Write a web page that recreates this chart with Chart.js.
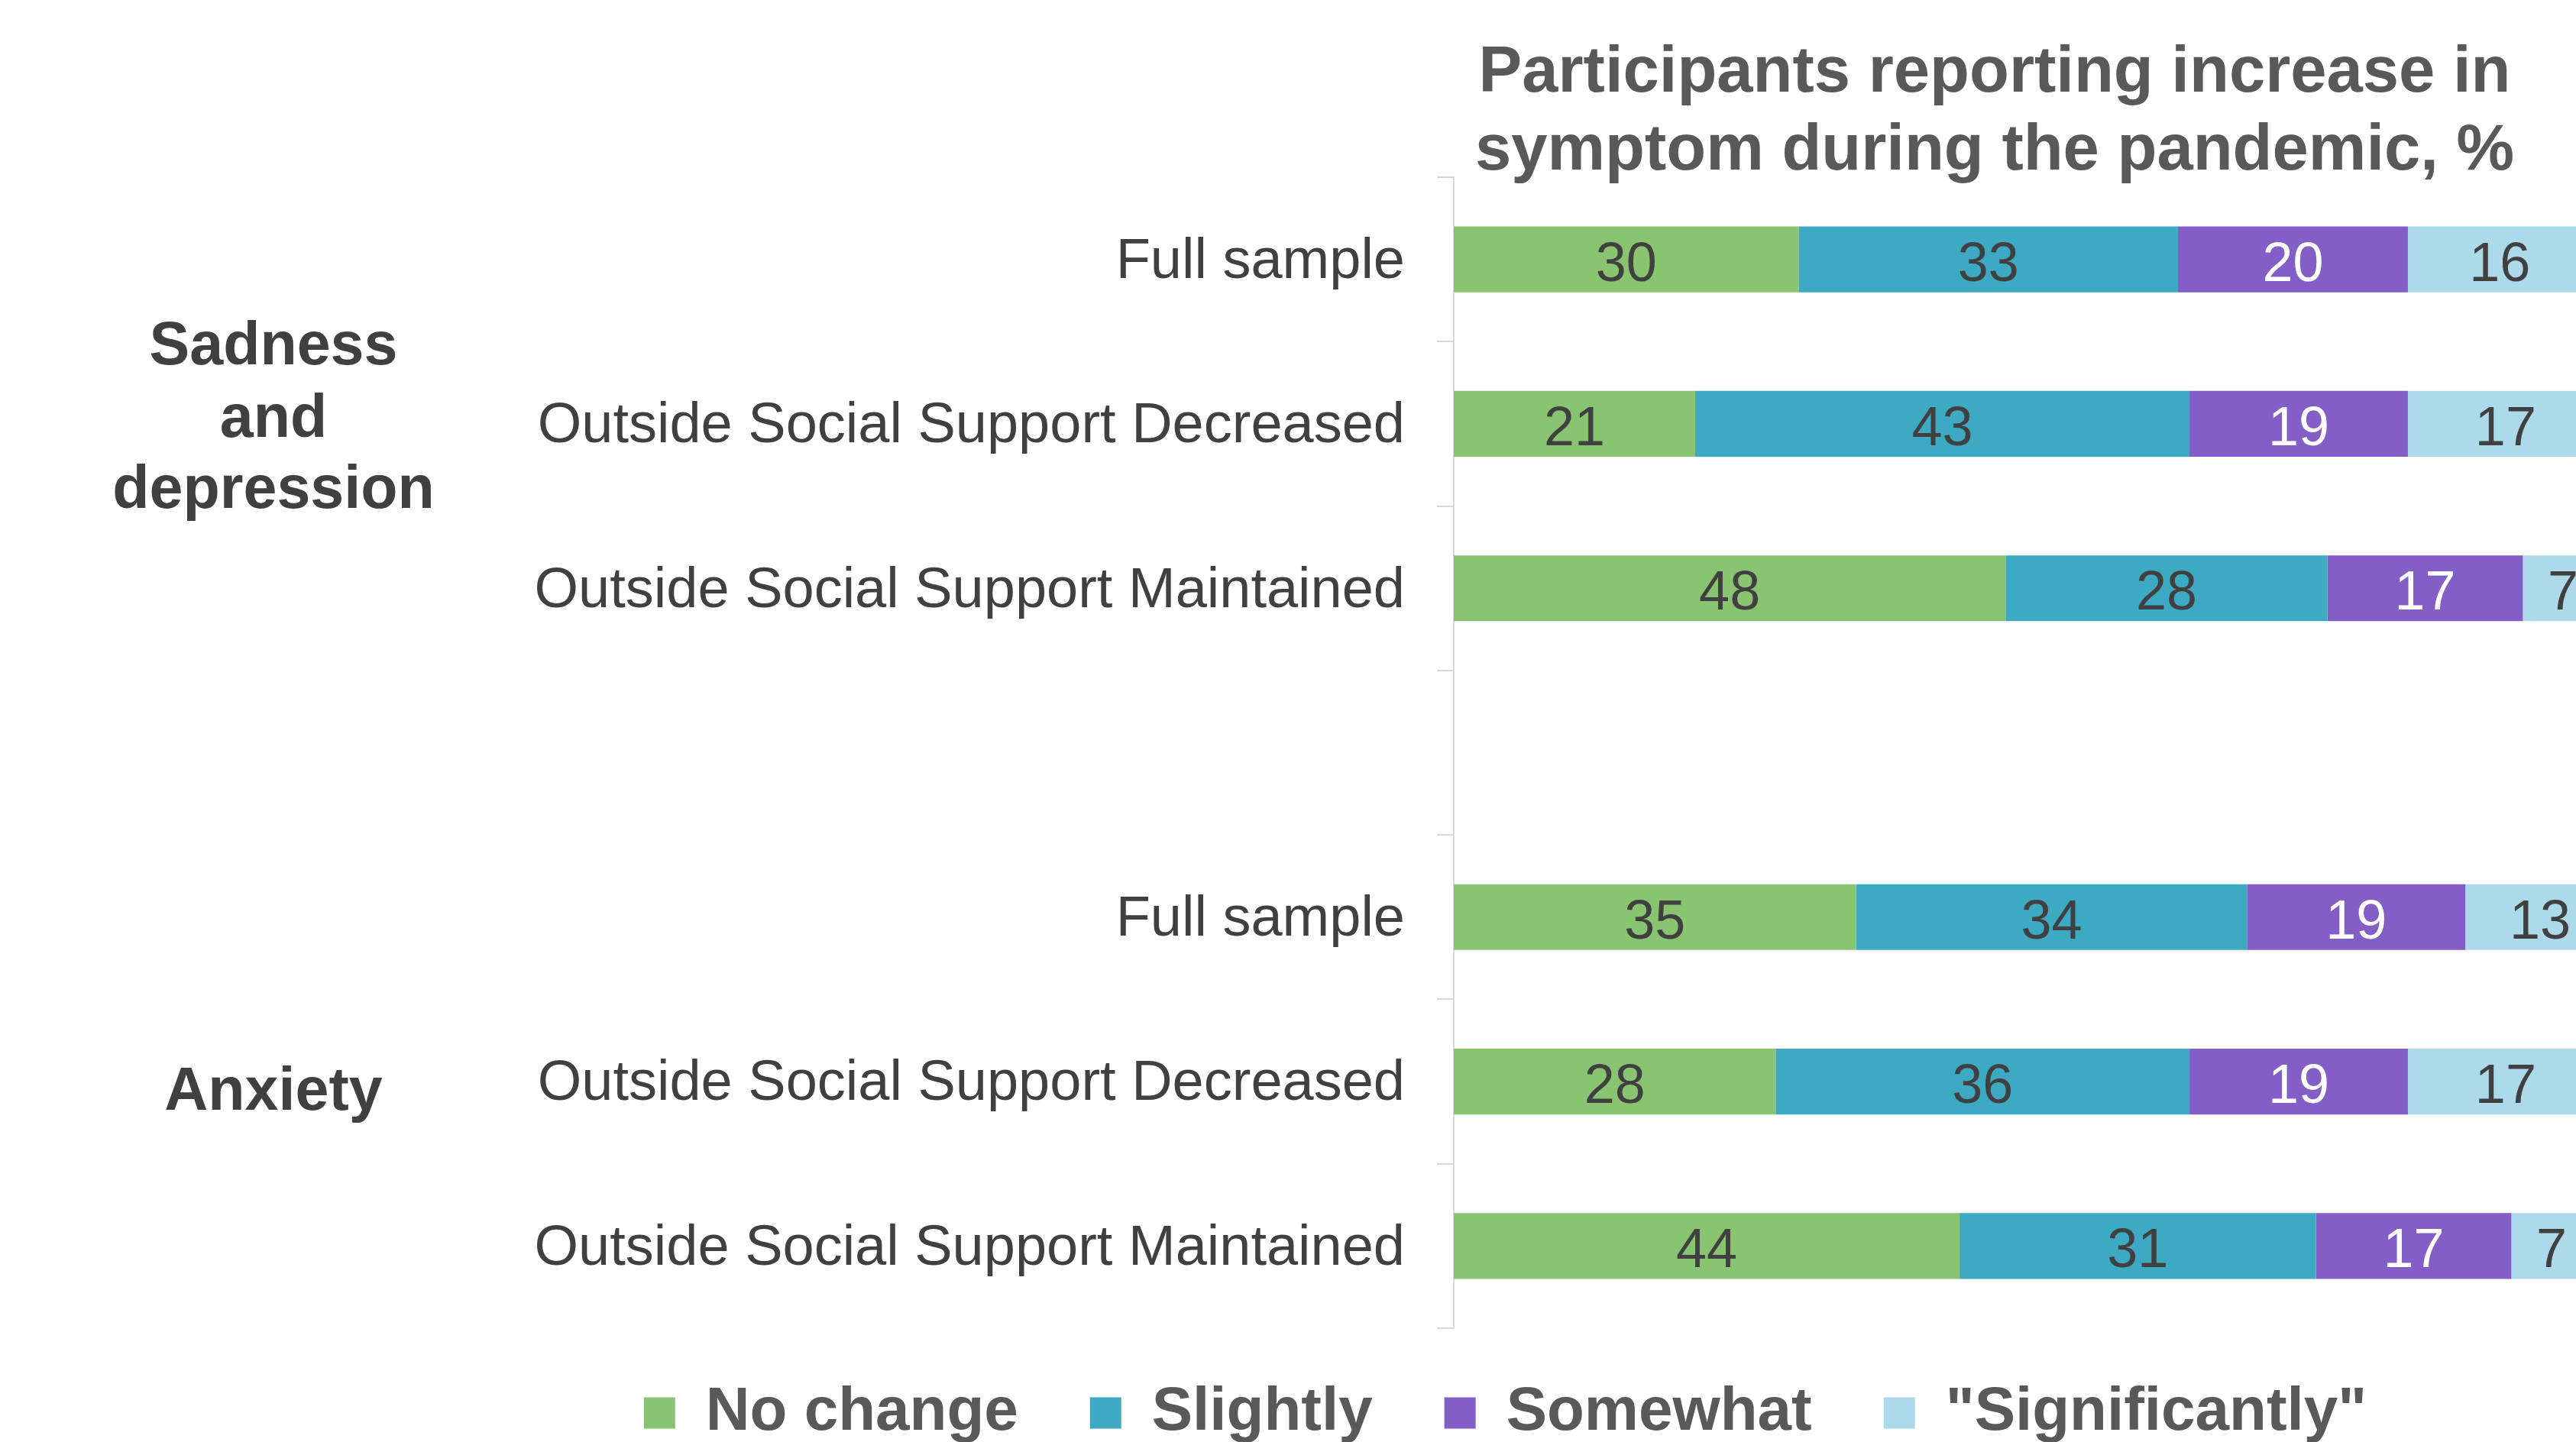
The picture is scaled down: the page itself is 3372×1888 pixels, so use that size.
<!DOCTYPE html>
<html>
<head>
<meta charset="utf-8">
<script src="https://cdn.jsdelivr.net/npm/chart.js@4/dist/chart.umd.min.js"></script>
<style>
html,body{margin:0;padding:0;background:#ffffff;overflow:hidden;}
#wrap{width:3372px;height:1888px;position:relative;}
canvas{display:block;}
</style>
</head>
<body>
<div id="wrap"><canvas id="c" width="3372" height="1888"></canvas></div>
<script>
// ---- data ----
const categories = ['Full sample','Outside Social Support Decreased','Outside Social Support Maintained','','Full sample','Outside Social Support Decreased','Outside Social Support Maintained'];
const noChange      = [30, 21, 48, null, 35, 28, 44];
const slightly      = [33, 43, 28, null, 34, 36, 31];
const somewhat      = [20, 19, 17, null, 19, 19, 17];
const significantly = [16, 17, 7,  null, 13, 17, 7];
const seriesNames = ['No change', 'Slightly', 'Somewhat', '"Significantly"'];
const groupSadness = ['Sadness', 'and', 'depression'];
const groupAnxiety = ['Anxiety'];
const titleLines = ['Participants reporting increase in', 'symptom during the pandemic, %'];

// ---- styles ----
const FONT = '"Liberation Sans", Arial, Helvetica, sans-serif';
const barColors = ['#89C471', '#3EA9C2', '#835EC7', '#ADDAEA'];
const valueColors = ['#404040', '#404040', '#FFFFFF', '#404040'];

Chart.defaults.font.family = FONT;

const valueLabels = {
  id: 'valueLabels',
  afterDatasetsDraw(chart) {
    const ctx = chart.ctx;
    ctx.save();
    ctx.font = '72px ' + FONT;
    ctx.textAlign = 'center';
    ctx.textBaseline = 'middle';
    chart.data.datasets.forEach((ds, i) => {
      const meta = chart.getDatasetMeta(i);
      meta.data.forEach((el, j) => {
        const v = ds.data[j];
        if (v === null || v === undefined) return;
        const p = el.getCenterPoint();
        ctx.fillStyle = valueColors[i];
        ctx.fillText(String(v), p.x, p.y + 8);
      });
    });
    ctx.restore();
  }
};

const groupText = {
  id: 'groupText',
  afterDraw(chart) {
    const ctx = chart.ctx;
    const y = chart.scales.y;
    ctx.save();
    ctx.font = 'bold 79px ' + FONT;
    ctx.fillStyle = '#404040';
    ctx.textAlign = 'center';
    ctx.textBaseline = 'alphabetic';
    const c1 = y.getPixelForValue(1);
    const offs = [-78, 17, 110];
    groupSadness.forEach((t, k) => ctx.fillText(t, 358, c1 + offs[k]));
    const c2 = y.getPixelForValue(5);
    ctx.fillText(groupAnxiety[0], 358, c2 + 37);
    ctx.restore();
  }
};

const legendShift = {
  id: 'legendShift',
  afterLayout(chart) {
    if (chart.legend) { chart.legend.top -= 23; chart.legend.bottom -= 23; }
  }
};

const seriesData = [noChange, slightly, somewhat, significantly];

new Chart(document.getElementById('c'), {
  type: 'bar',
  data: {
    labels: categories,
    datasets: seriesData.map((d, i) => ({
      label: seriesNames[i],
      data: d,
      backgroundColor: barColors[i],
      borderWidth: 0,
      barPercentage: 0.4,
      categoryPercentage: 1.0,
      clip: false
    }))
  },
  options: {
    indexAxis: 'y',
    responsive: false,
    devicePixelRatio: 1,
    animation: false,
    events: [],
    layout: { padding: { left: 622, right: 53, top: 0, bottom: -35 } },
    scales: {
      x: { stacked: true, display: false, min: 0, max: 94.1 },
      y: {
        stacked: true,
        afterFit(s) { s.width = 1281; },
        ticks: { color: '#404040', font: { size: 74 }, padding: 42, autoSkip: false, labelOffset: 4 },
        grid: { drawOnChartArea: false, drawTicks: true, tickLength: 22, color: '#D9D9D9', lineWidth: 2, offset: true },
        border: { display: true, color: '#D9D9D9', width: 2 }
      }
    },
    plugins: {
      tooltip: { enabled: false },
      title: {
        display: true,
        text: titleLines,
        fullSize: false,
        color: '#595959',
        font: { size: 85, weight: 'bold', lineHeight: 1.2 },
        padding: { top: 45.5, bottom: -17.5 }
      },
      legend: {
        display: true,
        position: 'bottom',
        labels: {
          color: '#595959',
          font: { size: 80, weight: 'bold' },
          boxWidth: 41,
          boxHeight: 41,
          padding: 94
        }
      }
    }
  },
  plugins: [valueLabels, groupText, legendShift]
});
</script>
</body>
</html>
